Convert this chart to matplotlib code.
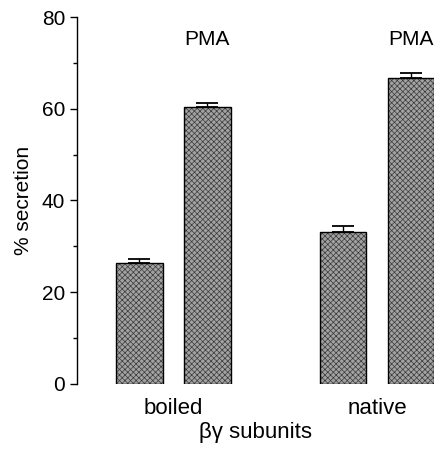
import matplotlib
matplotlib.use("Agg")
import matplotlib.pyplot as plt
import numpy as np

plt.rcParams['font.family'] = ['Liberation Sans', 'DejaVu Sans']
plt.rcParams['hatch.linewidth'] = 0.5

# data
groups = ["boiled", "native"]
values = [26.4, 60.3, 33.2, 66.7]
errors = [0.8, 1.0, 1.2, 1.2]
pma_flags = [False, True, False, True]
positions = [0, 1, 3, 4]

fig = plt.figure(figsize=(4.35, 4.49), dpi=100)
ax = fig.add_axes([0.177, 0.145, 0.823, 0.817])

# hatched fill, then a black outline on top
ax.bar(positions, values, width=0.68, color='#a2a2a2', edgecolor='#3a3a3a',
       linewidth=0, hatch='xxxxxx', zorder=2)
ax.bar(positions, values, width=0.68, fill=False, edgecolor='black',
       linewidth=1.0, zorder=2.5)
ax.errorbar(positions, values, yerr=[np.zeros(len(errors)), errors], fmt='none',
            ecolor='black', elinewidth=1.0, capsize=8, capthick=1.3, zorder=3)

for p, flag in zip(positions, pma_flags):
    if flag:
        ax.text(p, 75.2, "PMA", ha='center', va='center', fontsize=15)

ax.set_ylim(0, 80)
ax.set_xlim(-0.92, 4.35)
ax.set_yticks([0, 20, 40, 60, 80])
ax.set_yticks([10, 30, 50, 70], minor=True)
ax.tick_params(axis='y', direction='out', length=5, width=1, labelsize=15)
ax.tick_params(axis='y', which='minor', direction='out', length=3, width=1)
ax.set_xticks([0.5, 3.5])
ax.set_xticklabels(groups, fontsize=16)
ax.tick_params(axis='x', length=0, pad=10)
for s in ['top', 'right', 'bottom']:
    ax.spines[s].set_visible(False)
ax.spines['left'].set_linewidth(1.0)
ax.set_ylabel("% secretion", fontsize=15, labelpad=6)
ax.set_xlabel("βγ subunits", fontsize=16, labelpad=2)

fig.savefig("out.png", dpi=100)
